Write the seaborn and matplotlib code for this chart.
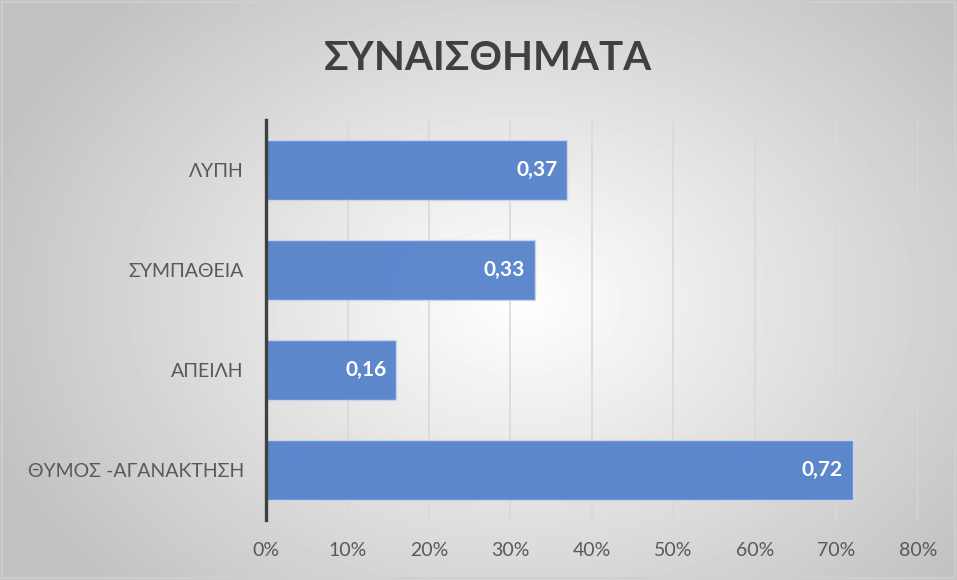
import numpy as np
import pandas as pd
import matplotlib
matplotlib.use("Agg")
import matplotlib.pyplot as plt
from matplotlib.ticker import PercentFormatter
from matplotlib.patches import Rectangle
import seaborn as sns

categories = ["ΛΥΠΗ", "ΣΥΜΠΑΘΕΙΑ", "ΑΠΕΙΛΗ", "ΘΥΜΟΣ -ΑΓΑΝΑΚΤΗΣΗ"]
values = [0.37, 0.33, 0.16, 0.72]
labels = ["0,37", "0,33", "0,16", "0,72"]
title = "ΣΥΝΑΙΣΘΗΜΑΤΑ"

df = pd.DataFrame({"cat": categories, "val": values})

sns.set_style("white")
plt.rcParams["font.family"] = ["Lato", "DejaVu Sans"]

fig = plt.figure(figsize=(9.57, 5.8), dpi=100)

# radial gradient background
bg = fig.add_axes([0, 0, 1, 1], zorder=-10)
yy, xx = np.mgrid[0:580, 0:957]
d = np.sqrt(((xx - 520) / 560.0) ** 2 + ((yy - 300) / 420.0) ** 2)
shade = 1.0 - 0.24 * np.clip(d, 0, 1.0)
bg.imshow(shade, cmap="gray", vmin=0, vmax=1, aspect="auto", interpolation="bilinear")
bg.set_axis_off()
fig.patches.append(Rectangle((0.002, 0.003), 0.996, 0.994, transform=fig.transFigure,
                             fill=False, edgecolor="#d0d0d0", linewidth=1.2))

ax = fig.add_axes([0.278, 0.1034, 0.959 - 0.278, 0.793 - 0.1034])
ax.set_facecolor("none")
sns.barplot(data=df, x="val", y="cat", order=categories, orient="h", ax=ax,
            color="#5683cb", width=0.6, edgecolor="#c9d6ee", linewidth=1.0,
            alpha=0.95, saturation=1, zorder=3)

ax.set_xlim(0, 0.8)
ax.set_xticks(np.arange(0, 0.81, 0.1))
ax.xaxis.set_major_formatter(PercentFormatter(1.0, decimals=0))
ax.grid(axis="x", color="#d9d9d9", linewidth=1.2, zorder=0)
ax.set_axisbelow(True)
ax.set_xlabel("")
ax.set_ylabel("")
for s in ["top", "right", "bottom"]:
    ax.spines[s].set_visible(False)
ax.spines["left"].set_color("#404040")
ax.spines["left"].set_linewidth(2.4)
ax.spines["left"].set_zorder(5)
ax.tick_params(axis="x", length=0, pad=16, labelsize=14, labelcolor="#595959")
ax.tick_params(axis="y", length=0, pad=16, labelsize=14, labelcolor="#595959")

for p, lab in zip(ax.patches, labels):
    ax.text(p.get_width() - 0.012, p.get_y() + p.get_height() / 2, lab,
            ha="right", va="center", color="white", fontsize=15,
            fontweight="bold", zorder=6)

fig.text(0.51, 0.90, title, ha="center", va="center", fontsize=29,
         fontweight="bold", color="#404040")

fig.savefig("out.png", dpi=100)
